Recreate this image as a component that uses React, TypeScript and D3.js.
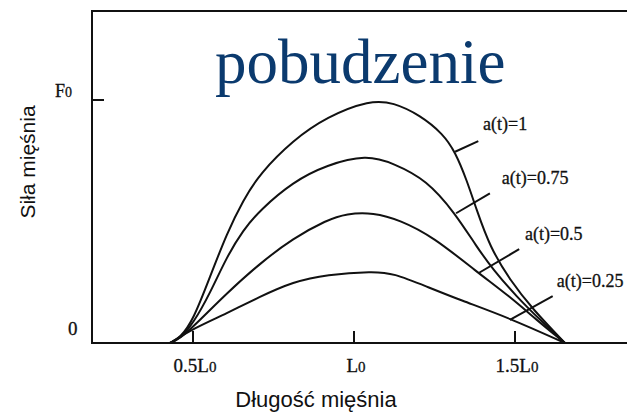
import React, { useEffect, useRef } from 'react';
import * as d3 from 'd3';

// długość mięśnia (w L0) i siła (w F0)
const lenA1 = [0.4286, 0.46, 0.501, 0.553, 0.605, 0.656, 0.708, 0.811, 0.915, 1.05, 1.122, 1.205, 1.277, 1.314, 1.35, 1.381, 1.422, 1.484, 1.557, 1.655];
const forceA1 = [0, 0.021, 0.095, 0.273, 0.451, 0.588, 0.698, 0.835, 0.931, 1.0, 0.99, 0.938, 0.86, 0.787, 0.671, 0.547, 0.396, 0.259, 0.136, 0];

const lenA075 = [0.4286, 0.46, 0.501, 0.553, 0.605, 0.656, 0.708, 0.811, 0.915, 1.039, 1.122, 1.226, 1.314, 1.381, 1.433, 1.505, 1.578, 1.655];
const forceA075 = [0, 0.019, 0.081, 0.205, 0.355, 0.465, 0.547, 0.664, 0.733, 0.775, 0.74, 0.671, 0.534, 0.396, 0.3, 0.191, 0.095, 0];

const lenA05 = [0.4286, 0.46, 0.501, 0.605, 0.708, 0.811, 0.915, 0.977, 1.06, 1.143, 1.246, 1.381, 1.484, 1.567, 1.655];
const forceA05 = [0, 0.019, 0.067, 0.205, 0.328, 0.431, 0.506, 0.533, 0.537, 0.506, 0.437, 0.293, 0.191, 0.095, 0];

const lenA025 = [0.4286, 0.501, 0.605, 0.708, 0.811, 0.915, 1.06, 1.122, 1.226, 1.329, 1.484, 1.655];
const forceA025 = [0, 0.06, 0.122, 0.191, 0.252, 0.282, 0.295, 0.287, 0.232, 0.177, 0.102, 0];

// etykiety krzywych i odnośniki (w jednostkach danych)
const curveLabels = ['a(t)=1', 'a(t)=0.75', 'a(t)=0.5', 'a(t)=0.25'];
const labelL = [1.401, 1.459, 1.531, 1.63];
const labelF = [0.877, 0.656, 0.424, 0.23];
const leaderFrom = [[1.314, 0.787], [1.317, 0.534], [1.386, 0.287], [1.484, 0.095]];
const leaderTo = [[1.386, 0.831], [1.422, 0.616], [1.513, 0.386], [1.617, 0.193]];

const xTicks = [0.5, 1, 1.5];
const xTickLabels = ['0.5L', 'L', '1.5L'];

const App = () => {
  const chart = useRef<SVGSVGElement>(null);

  useEffect(() => {
    const width = 627;
    const height = 414;
    const frame = { left: 92, top: 11, right: 627, bottom: 343 };

    const svg = d3.select(chart.current);
    svg.selectAll('*').remove();
    svg.attr('width', width).attr('height', height);

    const x = d3.scaleLinear().domain([0.5, 1.5]).range([193, 515]);
    const y = d3.scaleLinear().domain([0, 1]).range([frame.bottom, 100]);

    // rama: oś Y, górna linia, oś X
    svg.append('path')
      .attr('d', `M${frame.right},${frame.top}H${frame.left}V${frame.bottom}H${frame.right}`)
      .attr('fill', 'none')
      .attr('stroke', '#111')
      .attr('stroke-width', 2);

    // znacznik F0
    svg.append('line')
      .attr('x1', frame.left).attr('x2', frame.left + 12)
      .attr('y1', y(1)).attr('y2', y(1))
      .attr('stroke', '#111').attr('stroke-width', 2);

    svg.selectAll('line.xtick').data(xTicks).enter().append('line')
      .attr('class', 'xtick')
      .attr('x1', d => x(d)).attr('x2', d => x(d))
      .attr('y1', frame.bottom).attr('y2', frame.bottom - 12)
      .attr('stroke', '#111').attr('stroke-width', 2);

    const serif = '"Liberation Serif", "Times New Roman", serif';
    const sans = '"Liberation Sans", Arial, sans-serif';

    const xl = svg.selectAll('text.xlab').data(xTicks).enter().append('text')
      .attr('class', 'xlab')
      .attr('x', d => x(d) + 2)
      .attr('y', 372)
      .attr('text-anchor', 'middle')
      .attr('font-family', serif)
      .attr('font-size', 19)
      .attr('fill', '#111')
      .attr('stroke', '#111').attr('stroke-width', 0.3);
    xl.append('tspan').text((d, i) => xTickLabels[i]);
    xl.append('tspan').attr('font-size', 15).text('0');

    const f0 = svg.append('text')
      .attr('x', 55).attr('y', 97)
      .attr('font-family', serif).attr('font-size', 18).attr('fill', '#111')
      .attr('stroke', '#111').attr('stroke-width', 0.3);
    f0.append('tspan').text('F');
    f0.append('tspan').attr('font-size', 14).text('0');

    svg.append('text')
      .attr('x', 68).attr('y', 335)
      .attr('font-family', serif).attr('font-size', 19).attr('fill', '#111')
      .attr('stroke', '#111').attr('stroke-width', 0.3)
      .text('0');

    // krzywe
    const series = [
      [lenA1, forceA1],
      [lenA075, forceA075],
      [lenA05, forceA05],
      [lenA025, forceA025],
    ];
    const line = d3.line<[number, number]>()
      .x(d => x(d[0]))
      .y(d => y(d[1]))
      .curve(d3.curveBasis);

    series.forEach(([ls, fs]) => {
      const pts = ls.map((l, i) => [l, fs[i]] as [number, number]);
      svg.append('path')
        .attr('d', line(pts))
        .attr('fill', 'none')
        .attr('stroke', '#111')
        .attr('stroke-width', 2);
    });

    svg.selectAll('line.leader').data(curveLabels).enter().append('line')
      .attr('class', 'leader')
      .attr('x1', (d, i) => x(leaderFrom[i][0]))
      .attr('y1', (d, i) => y(leaderFrom[i][1]))
      .attr('x2', (d, i) => x(leaderTo[i][0]))
      .attr('y2', (d, i) => y(leaderTo[i][1]))
      .attr('stroke', '#111').attr('stroke-width', 2);

    svg.selectAll('text.clab').data(curveLabels).enter().append('text')
      .attr('class', 'clab')
      .attr('x', (d, i) => x(labelL[i]))
      .attr('y', (d, i) => y(labelF[i]))
      .attr('font-family', serif)
      .attr('font-size', 18)
      .attr('fill', '#111')
      .attr('stroke', '#111').attr('stroke-width', 0.3)
      .text(d => d);

    // tytuł
    svg.append('text')
      .attr('x', 215).attr('y', 83)
      .attr('font-family', serif)
      .attr('font-size', 63)
      .attr('fill', '#0b3a6e')
      .text('pobudzenie');

    // opisy osi
    svg.append('text')
      .attr('x', 316).attr('y', 407)
      .attr('text-anchor', 'middle')
      .attr('font-family', sans).attr('font-size', 22).attr('fill', '#111')
      .text('Długość mięśnia');

    svg.append('text')
      .attr('transform', 'translate(35,162) rotate(-90)')
      .attr('text-anchor', 'middle')
      .attr('font-family', sans).attr('font-size', 21).attr('fill', '#111')
      .text('Siła mięśnia');
  }, []);

  return (
    <div id="chartArea">
      <svg ref={chart} style={{ position: 'absolute', left: 0, top: 0, background: '#fff' }}></svg>
    </div>
  );
};

export default App;
